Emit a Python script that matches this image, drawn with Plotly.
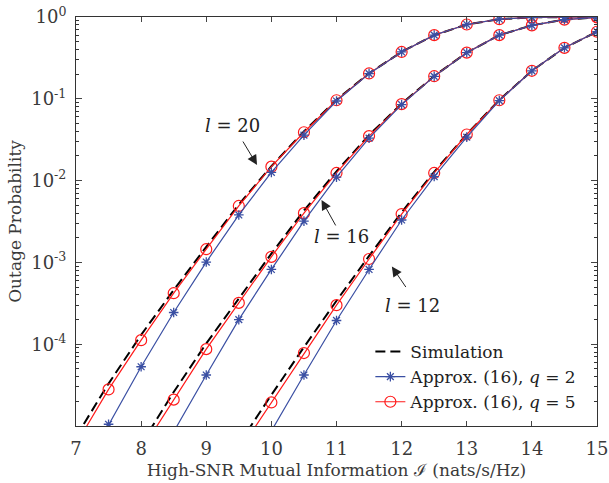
import math
import plotly.graph_objects as go

x = [7.0, 7.5, 8.0, 8.5, 9.0, 9.5, 10.0, 10.5, 11.0, 11.5, 12.0, 12.5, 13.0, 13.5, 14.0, 14.5, 15.0]

# l = 20
sim_l20 = [7.4e-6, 3.3e-5, 1.3e-4, 4.6e-4, 1.55e-3, 5.1e-3, 1.5e-2, 4.0e-2, 9.7e-2, 0.205, 0.375, 0.60, 0.81, 0.94, 0.99, 1.0, 1.0]
q2_l20 = [2.0e-6, 1.05e-5, 5.3e-5, 2.44e-4, 1.01e-3, 3.8e-3, 1.26e-2, 3.6e-2, 9.4e-2, 0.203, 0.374, 0.60, 0.81, 0.94, 0.99, 1.0, 1.0]
q5_l20 = [6.0e-6, 2.8e-5, 1.12e-4, 4.2e-4, 1.45e-3, 4.9e-3, 1.48e-2, 3.9e-2, 9.6e-2, 0.204, 0.374, 0.60, 0.81, 0.94, 0.99, 1.0, 1.0]

# l = 16
x16 = [8.0, 8.5, 9.0, 9.5, 10.0, 10.5, 11.0, 11.5, 12.0, 12.5, 13.0, 13.5, 14.0, 14.5, 15.0]
sim_l16 = [6.0e-6, 2.6e-5, 1.02e-4, 3.6e-4, 1.28e-3, 4.3e-3, 1.3e-2, 3.6e-2, 8.7e-2, 0.19, 0.367, 0.60, 0.79, 0.93, 0.99]
q2_l16 = [1.6e-6, 8.5e-6, 4.2e-5, 2.0e-4, 8.2e-4, 3.2e-3, 1.1e-2, 3.3e-2, 8.5e-2, 0.188, 0.366, 0.60, 0.79, 0.93, 0.99]
q5_l16 = [5.0e-6, 2.1e-5, 8.7e-5, 3.2e-4, 1.17e-3, 4.0e-3, 1.24e-2, 3.5e-2, 8.6e-2, 0.189, 0.367, 0.60, 0.79, 0.93, 0.99]

# l = 12
x12 = [9.5, 10.0, 10.5, 11.0, 11.5, 12.0, 12.5, 13.0, 13.5, 14.0, 14.5, 15.0]
sim_l12 = [6.0e-6, 2.4e-5, 9.2e-5, 3.4e-4, 1.2e-3, 4.1e-3, 1.28e-2, 3.7e-2, 9.7e-2, 0.22, 0.42, 0.66]
q2_l12 = [1.6e-6, 8.7e-6, 4.2e-5, 1.95e-4, 8.2e-4, 3.3e-3, 1.12e-2, 3.4e-2, 9.5e-2, 0.22, 0.42, 0.66]
q5_l12 = [4.9e-6, 1.94e-5, 7.8e-5, 3.0e-4, 1.1e-3, 3.9e-3, 1.24e-2, 3.66e-2, 9.6e-2, 0.22, 0.42, 0.66]

x_ticks = [7, 8, 9, 10, 11, 12, 13, 14, 15]
y_ticks = [1e-4, 1e-3, 1e-2, 1e-1, 1e0]
y_ticktext = ["10<sup>-4</sup>", "10<sup>-3</sup>", "10<sup>-2</sup>", "10<sup>-1</sup>", "10<sup>0</sup>"]
y_minor = [m * 10 ** e for e in range(-5, 0) for m in range(2, 10)]

# label text, text position (x, y), arrow head (x, y), arrow tail offset from head (px)
labels = [
    ("<i>l</i> = 20", 9.41, 0.0477, 9.78, 1.55e-2, -15, -25),
    ("<i>l</i> = 16", 11.08, 2.06e-3, 10.77, 5.8e-3, 15, 27),
    ("<i>l</i> = 12", 12.16, 3.0e-4, 11.85, 8.9e-4, 15, 22),
]

FONT = "DejaVu Serif"
TXT = "#3a3a3a"
BLUE = "#3a4fa3"
RED = "#ff1a1a"

fig = go.Figure()
groups = [(x, sim_l20, q2_l20, q5_l20), (x16, sim_l16, q2_l16, q5_l16), (x12, sim_l12, q2_l12, q5_l12)]
for i, (xx, s, b, r) in enumerate(groups):
    fig.add_trace(go.Scatter(x=xx, y=s, mode="lines", name="Simulation",
                             line=dict(color="black", width=2, dash="10px,5px"),
                             showlegend=(i == 0), legendrank=1))
for i, (xx, s, b, r) in enumerate(groups):
    fig.add_trace(go.Scatter(x=xx, y=r, mode="lines+markers", name="Approx. (16), <i>q</i> = 5",
                             line=dict(color=RED, width=1.2),
                             marker=dict(symbol="circle-open", size=11, color=RED, line=dict(width=1.2)),
                             showlegend=(i == 0), legendrank=3))
for i, (xx, s, b, r) in enumerate(groups):
    fig.add_trace(go.Scatter(x=xx, y=b, mode="lines+markers", name="Approx. (16), <i>q</i> = 2",
                             line=dict(color=BLUE, width=1.2),
                             marker=dict(symbol="asterisk-open", size=8, color=BLUE, line=dict(width=1.3, color=BLUE)),
                             showlegend=(i == 0), legendrank=2))

for txt, tx, ty, hx, hy, ax, ay in labels:
    fig.add_annotation(x=tx, y=math.log10(ty), xref="x", yref="y", text=txt, showarrow=False,
                       font=dict(family=FONT, size=18, color="#222"))
    fig.add_annotation(x=hx, y=math.log10(hy), xref="x", yref="y", text="", showarrow=True,
                       ax=ax, ay=ay, arrowhead=2, arrowsize=2.0, arrowwidth=1, arrowcolor="#222")

fig.update_layout(
    width=609, height=483,
    margin=dict(l=76, r=12, t=17, b=57),
    paper_bgcolor="white", plot_bgcolor="white",
    font=dict(family=FONT, size=17, color=TXT),
    showlegend=True,
    legend=dict(x=0.565, y=0.225, xanchor="left", yanchor="top", bgcolor="rgba(0,0,0,0)",
                font=dict(family=FONT, size=17, color="#222"), tracegroupgap=0),
    xaxis=dict(range=[7, 15], tickvals=x_ticks, ticks="inside", ticklen=5, mirror="ticks",
               showline=True, linecolor="#333", linewidth=1, showgrid=False, zeroline=False,
               automargin=False, ticklabelstandoff=6,
               tickfont=dict(size=18, color=TXT),
               title=dict(text="High-SNR Mutual Information ℐ (nats/s/Hz)", font=dict(size=17, color=TXT), standoff=6)),
    yaxis=dict(type="log", range=[-5, 0], tickvals=y_ticks, ticktext=y_ticktext, ticks="inside", ticklen=6,
               mirror="ticks", showline=True, linecolor="#333", linewidth=1, showgrid=False, zeroline=False,
               automargin=False, ticklabelstandoff=5,
               tickfont=dict(size=18, color=TXT),
               minor=dict(tickvals=y_minor, ticks="inside", ticklen=3, tickcolor="#333", showgrid=False),
               title=dict(text="Outage Probability", font=dict(size=17, color=TXT), standoff=5)),
)

fig.write_html("out.html", config={"displayModeBar": False},
               post_script="document.body.style.margin='0';document.body.style.padding='0';"
                           "document.body.style.overflow='hidden';")
